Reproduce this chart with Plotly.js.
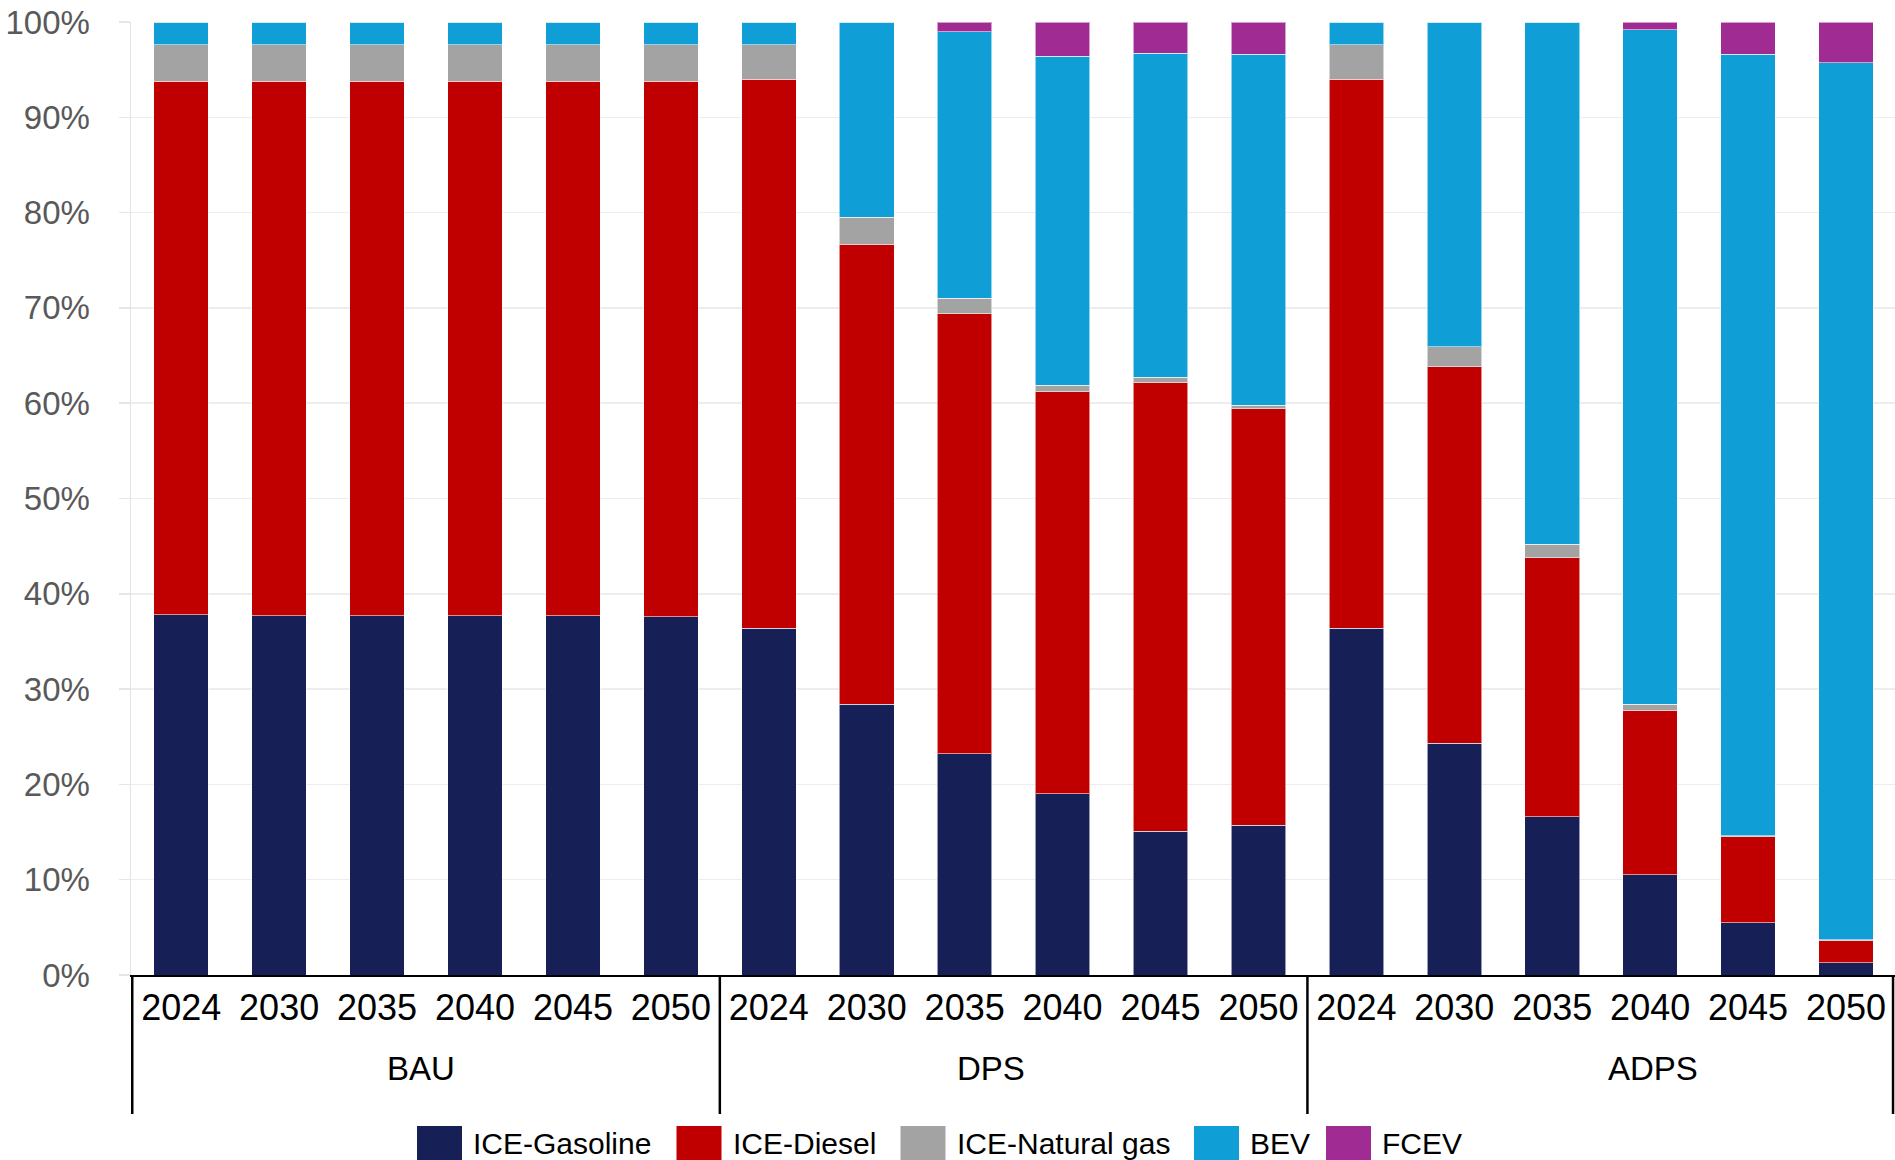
<!DOCTYPE html>
<html>
<head>
<meta charset="utf-8">
<script src="https://cdn.plot.ly/plotly-3.0.1.min.js"></script>
<style>
  html, body { margin: 0; padding: 0; background: #fff; }
  #chart { width: 1895px; height: 1160px; }
</style>
</head>
<body>
<div id="chart"></div>
<script>
// ---- Data ----
const scenarios = ['BAU', 'DPS', 'ADPS'];
const years = ['2024', '2030', '2035', '2040', '2045', '2050'];
const seriesNames = ['ICE-Gasoline', 'ICE-Diesel', 'ICE-Natural gas', 'BEV', 'FCEV'];
const seriesColors = ['#162056', '#C00000', '#A3A3A3', '#0F9ED5', '#A02B93'];

// share of each technology (%), order: BAU 2024..2050, DPS 2024..2050, ADPS 2024..2050
const iceGasoline   = [37.8, 37.7, 37.7, 37.7, 37.7, 37.6,  36.4, 28.4, 23.2, 19.0, 15.1, 15.7,  36.4, 24.3, 16.6, 10.5, 5.5, 1.3];
const iceDiesel     = [56.0, 56.1, 56.1, 56.1, 56.1, 56.2,  57.6, 48.3, 46.2, 42.2, 47.1, 43.7,  57.6, 39.5, 27.2, 17.3, 9.0, 2.3];
const iceNaturalGas = [3.8, 3.8, 3.8, 3.8, 3.8, 3.8,        3.6, 2.8, 1.6, 0.7, 0.5, 0.4,        3.6, 2.1, 1.4, 0.6, 0.1, 0.1];
const bev           = [2.4, 2.4, 2.4, 2.4, 2.4, 2.4,        2.4, 20.5, 28.0, 34.5, 34.0, 36.8,   2.4, 34.1, 54.8, 70.8, 82.0, 92.0];
const fcev          = [0, 0, 0, 0, 0, 0,                    0, 0, 1.0, 3.6, 3.3, 3.4,            0, 0, 0, 0.8, 3.4, 4.3];

const seriesValues = [iceGasoline, iceDiesel, iceNaturalGas, bev, fcev];

// ---- Build category keys (scenario + year) ----
const xKeys = [];
const xYearText = [];
scenarios.forEach(s => years.forEach(y => { xKeys.push(s + ' ' + y); xYearText.push(y); }));

const FONT = 'Liberation Sans, Arial, sans-serif';

const traces = seriesNames.map((name, i) => ({
  type: 'bar',
  name: name,
  x: xKeys,
  y: seriesValues[i],
  marker: { color: seriesColors[i], line: { color: 'rgba(255,255,255,0.55)', width: 1 } },
  hoverinfo: 'skip',
  showlegend: false
}));

// ---- Layout helpers (pixel -> paper) ----
const W = 1895, H = 1160;
const M = { l: 131, r: 0, t: 22, b: 185 };
const plotW = W - M.l - M.r, plotH = H - M.t - M.b;
const px = v => (v - M.l) / plotW;
const py = v => (H - M.b - v) / plotH;

const shapes = [];
const annotations = [];

// group dividers below the axis (at group boundaries, in category units)
const nPer = years.length;
for (let g = 0; g <= scenarios.length; g++) {
  let xv = g * nPer - 0.5;
  if (g === scenarios.length) xv -= 0.02;
  shapes.push({
    type: 'line', xref: 'x', yref: 'paper',
    x0: xv, x1: xv, y0: 0, y1: py(1114),
    line: { color: '#000000', width: 2.5 }
  });
}

// group labels
const groupLabelX = [421, 991, 1653];
scenarios.forEach((s, i) => {
  annotations.push({
    text: s, xref: 'paper', yref: 'paper',
    x: px(groupLabelX[i]), y: py(1068),
    xanchor: 'center', yanchor: 'middle', showarrow: false,
    font: { family: FONT, size: 33, color: '#000000' }
  });
});

// custom legend (large swatches as in the reference)
const legendSwatchX = [417, 676.5, 900.5, 1194, 1326];
const swatchW = 45;
seriesNames.forEach((name, i) => {
  shapes.push({
    type: 'rect', xref: 'paper', yref: 'paper',
    x0: px(legendSwatchX[i]), x1: px(legendSwatchX[i] + swatchW),
    y0: py(1126), y1: py(1175),
    fillcolor: seriesColors[i], line: { width: 0 }
  });
  annotations.push({
    text: name, xref: 'paper', yref: 'paper',
    x: px(legendSwatchX[i] + swatchW + 9), y: py(1143),
    xanchor: 'left', yanchor: 'middle', showarrow: false,
    font: { family: FONT, size: 30, color: '#000000' }
  });
});

const layout = {
  width: W,
  height: H,
  barmode: 'stack',
  bargap: 0.443,
  paper_bgcolor: '#ffffff',
  plot_bgcolor: '#ffffff',
  margin: { l: M.l, r: M.r, t: M.t, b: M.b, autoexpand: false },
  font: { family: FONT, color: '#000000' },
  showlegend: false,
  xaxis: {
    type: 'category',
    categoryorder: 'array',
    categoryarray: xKeys,
    tickmode: 'array',
    tickvals: xKeys,
    ticktext: xYearText,
    showline: true,
    linecolor: '#000000',
    linewidth: 2,
    showgrid: false,
    ticks: '',
    tickfont: { family: FONT, size: 36, color: '#000000' }
  },
  yaxis: {
    range: [0, 100],
    dtick: 10,
    ticksuffix: '%',
    showline: true,
    linecolor: '#E3E3E3',
    linewidth: 1.5,
    showgrid: true,
    gridcolor: '#EDEDED',
    gridwidth: 1.5,
    zeroline: false,
    ticks: 'outside',
    ticklen: 11,
    tickwidth: 1.5,
    tickcolor: '#E6E6E6',
    ticklabelstandoff: 22,
    tickfont: { family: FONT, size: 33, color: '#595959' }
  },
  shapes: shapes,
  annotations: annotations
};

Plotly.newPlot('chart', traces, layout, { displayModeBar: false, staticPlot: true });
</script>
</body>
</html>
